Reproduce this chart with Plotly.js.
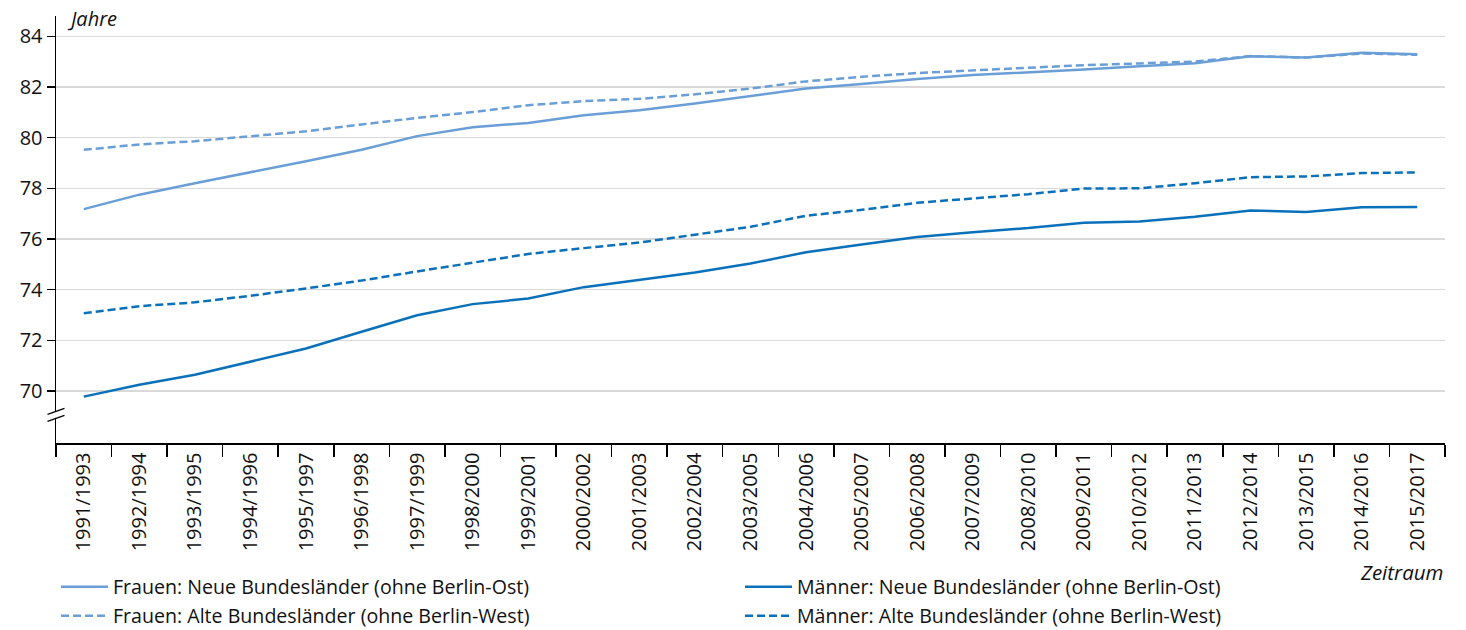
<!DOCTYPE html>
<html>
<head>
<meta charset="utf-8">
<script src="https://cdn.plot.ly/plotly-3.0.1.min.js"></script>
<style>html,body{margin:0;padding:0;background:#fff;}#chart{width:1466px;height:630px;}</style>
</head>
<body>
<div id="chart"></div>
<script>
const periods = ['1991/1993','1992/1994','1993/1995','1994/1996','1995/1997','1996/1998','1997/1999','1998/2000','1999/2001','2000/2002','2001/2003','2002/2004','2003/2005','2004/2006','2005/2007','2006/2008','2007/2009','2008/2010','2009/2011','2010/2012','2011/2013','2012/2014','2013/2015','2014/2016','2015/2017'];

const frauenNeu = [77.18, 77.75, 78.20, 78.62, 79.07, 79.52, 80.06, 80.41, 80.58, 80.88, 81.08, 81.35, 81.63, 81.94, 82.12, 82.31, 82.47, 82.57, 82.69, 82.82, 82.94, 83.21, 83.16, 83.35, 83.29];
const frauenAlt = [79.52, 79.73, 79.86, 80.06, 80.25, 80.52, 80.78, 81.01, 81.28, 81.44, 81.53, 81.71, 81.94, 82.22, 82.40, 82.55, 82.66, 82.75, 82.86, 82.93, 83.00, 83.22, 83.16, 83.32, 83.27];
const maennerNeu = [69.78, 70.25, 70.64, 71.16, 71.68, 72.34, 72.99, 73.43, 73.65, 74.10, 74.38, 74.68, 75.03, 75.48, 75.78, 76.08, 76.27, 76.43, 76.64, 76.69, 76.88, 77.12, 77.07, 77.25, 77.26];
const maennerAlt = [73.07, 73.35, 73.50, 73.76, 74.05, 74.36, 74.72, 75.06, 75.41, 75.64, 75.86, 76.17, 76.48, 76.92, 77.15, 77.43, 77.60, 77.77, 77.99, 78.00, 78.20, 78.44, 78.47, 78.60, 78.63];

const yTicks = [70, 72, 74, 76, 78, 80, 82, 84];

const names = {
  fn: 'Frauen: Neue Bundesländer (ohne Berlin-Ost)',
  fa: 'Frauen: Alte Bundesländer (ohne Berlin-West)',
  mn: 'Männer: Neue Bundesländer (ohne Berlin-Ost)',
  ma: 'Männer: Alte Bundesländer (ohne Berlin-West)'
};

const light = '#6a9ed6';
const dark = '#0a70ba';
const FONT = 'Open Sans, sans-serif';

const traces = [
  {x: periods, y: frauenNeu, name: names.fn, type: 'scatter', mode: 'lines', line: {color: light, width: 2.5}, legend: 'legend'},
  {x: periods, y: maennerNeu, name: names.mn, type: 'scatter', mode: 'lines', line: {color: dark, width: 2.5}, legend: 'legend'},
  {x: periods, y: frauenAlt, name: names.fa, type: 'scatter', mode: 'lines', line: {color: light, width: 2.5, dash: '8px,4px'}, legend: 'legend2'},
  {x: periods, y: maennerAlt, name: names.ma, type: 'scatter', mode: 'lines', line: {color: dark, width: 2.5, dash: '8px,4px'}, legend: 'legend2'}
];

const legendBase = {
  orientation: 'h', xref: 'container', yref: 'container',
  xanchor: 'left', yanchor: 'middle', x: 56 / 1466,
  font: {family: FONT, size: 19.6, color: '#111'},
  entrywidth: 622, entrywidthmode: 'pixels',
  itemwidth: 47, bgcolor: 'rgba(0,0,0,0)', traceorder: 'normal'
};

const breakY = 0.066;
const layout = {
  width: 1466, height: 630,
  margin: {l: 56, r: 21, t: 16, b: 187},
  paper_bgcolor: '#ffffff', plot_bgcolor: '#ffffff',
  font: {family: FONT, size: 20, color: '#111'},
  showlegend: true,
  legend: Object.assign({}, legendBase, {y: 1 - 587 / 630}),
  legend2: Object.assign({}, legendBase, {y: 1 - 616 / 630}),
  xaxis: {
    type: 'category', range: [-0.5, 24.5],
    showline: true, linecolor: '#000', linewidth: 1.5,
    ticks: 'outside', tickson: 'boundaries', ticklen: 12, tickwidth: 1.5, tickcolor: '#000',
    tickangle: -90, tickfont: {family: FONT, size: 20, color: '#111'},
    showgrid: false, zeroline: false, automargin: false
  },
  yaxis: {
    range: [67.95, 84.8], tickvals: yTicks, ticktext: yTicks.map(String),
    showline: true, linecolor: '#000', linewidth: 1.5,
    ticks: 'outside', ticklen: 8, tickwidth: 1.5, tickcolor: '#000',
    tickfont: {family: FONT, size: 20, color: '#111'},
    showgrid: true, gridcolor: '#d9d9d9', gridwidth: 1.5,
    zeroline: false, automargin: false
  },
  annotations: [
    {text: 'Jahre', xref: 'paper', yref: 'paper', x: 0, y: 0.9953, xanchor: 'left', yanchor: 'middle', xshift: 9, showarrow: false, font: {family: FONT, size: 20, style: 'italic', color: '#111'}},
    {text: 'Zeitraum', xref: 'paper', yref: 'paper', x: 1, y: -0.302, xanchor: 'right', yanchor: 'middle', showarrow: false, font: {family: FONT, size: 20.5, style: 'italic', color: '#111'}}
  ],
  shapes: [
    {type: 'rect', xref: 'paper', yref: 'paper', xsizemode: 'pixel', ysizemode: 'pixel', xanchor: 0, yanchor: breakY, x0: -3, x1: 3, y0: -3, y1: 3, fillcolor: '#ffffff', line: {width: 0}, layer: 'above'},
    {type: 'line', xref: 'paper', yref: 'paper', xsizemode: 'pixel', ysizemode: 'pixel', xanchor: 0, yanchor: breakY, x0: -8.5, x1: 8.5, y0: -6.5, y1: -0.5, line: {color: '#000', width: 1.3}, layer: 'above'},
    {type: 'line', xref: 'paper', yref: 'paper', xsizemode: 'pixel', ysizemode: 'pixel', xanchor: 0, yanchor: breakY, x0: -8.5, x1: 8.5, y0: 0.5, y1: 6.5, line: {color: '#000', width: 1.3}, layer: 'above'}
  ]
};

Plotly.newPlot('chart', traces, layout, {staticPlot: true, displayModeBar: false});
</script>
</body>
</html>
